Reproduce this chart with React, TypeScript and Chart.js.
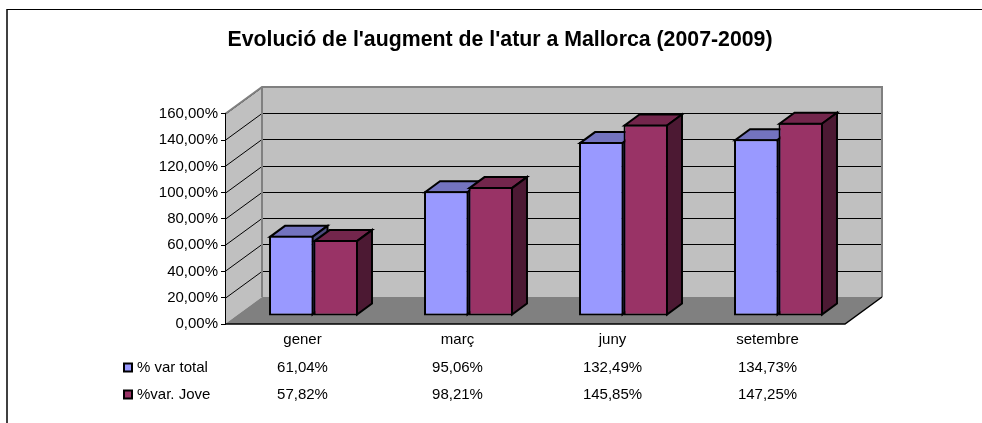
import React, { useEffect, useRef } from 'react';
import { Chart, registerables } from 'chart.js';

Chart.register(...registerables);

const titleText = "Evolució de l'augment de l'atur a Mallorca (2007-2009)";
const categories = ['gener', 'març', 'juny', 'setembre'];
const seriesNames = ['% var total', '%var. Jove'];
const varTotal = [61.04, 95.06, 132.49, 134.73];
const varJove = [57.82, 98.21, 145.85, 147.25];
const yMin = 0;
const yMax = 160;
const yStep = 20;

const frontColors = ['#9999FF', '#993366'];
const topColors = ['#7373BF', '#73264C'];
const sideColors = ['#4C4C80', '#4C1933'];

const FONT = '"Liberation Sans", Arial, Helvetica, sans-serif';

// pseudo-3D geometry (pixels)
const WALL_DX = 37;
const WALL_DY = 27;
const SHIFT_X = 11;
const SHIFT_Y = 8;
const BAR_DX = 15;
const BAR_DY = 11;

const fmt = (v: number) => v.toFixed(2).replace('.', ',') + '%';

function poly(ctx: CanvasRenderingContext2D, pts: number[][]) {
  ctx.beginPath();
  ctx.moveTo(pts[0][0], pts[0][1]);
  for (let i = 1; i < pts.length; i++) ctx.lineTo(pts[i][0], pts[i][1]);
  ctx.closePath();
}

function drawFaces(chart: any, dsIndex: number) {
  const ctx: CanvasRenderingContext2D = chart.ctx;
  const meta = chart.getDatasetMeta(dsIndex);
  ctx.save();
  ctx.lineWidth = 2;
  ctx.strokeStyle = '#000';
  ctx.lineJoin = 'miter';
  meta.data.forEach((el: any) => {
    const p = el.getProps(['x', 'y', 'base', 'width'], true);
    const l = p.x - p.width / 2 + 1;
    const r = p.x + p.width / 2 - 1;
    const t = Math.min(p.y, p.base) + 1;
    const b = Math.max(p.y, p.base) - 1;
    // top face
    poly(ctx, [[l, t], [r, t], [r + BAR_DX, t - BAR_DY], [l + BAR_DX, t - BAR_DY]]);
    ctx.fillStyle = topColors[dsIndex];
    ctx.fill();
    ctx.stroke();
    // side face
    poly(ctx, [[r, t], [r + BAR_DX, t - BAR_DY], [r + BAR_DX, b - BAR_DY], [r, b]]);
    ctx.fillStyle = sideColors[dsIndex];
    ctx.fill();
    ctx.stroke();
  });
  ctx.restore();
}

const scenePlugin = {
  id: 'scene3d',
  beforeDraw(chart: any) {
    const { ctx, chartArea: a, scales } = chart;
    const ys = scales.y;
    const L = a.left, R = a.right, T = a.top, B = a.bottom;
    ctx.save();
    // outer frame
    ctx.fillStyle = '#404040';
    ctx.fillRect(6, 9, 2, chart.height);
    ctx.fillStyle = '#000';
    ctx.fillRect(7, 9, chart.width, 1);
    // back wall
    ctx.fillStyle = '#C0C0C0';
    ctx.fillRect(L + WALL_DX, T - WALL_DY, R - L, B - T);
    // left wall
    poly(ctx, [[L, B], [L, T], [L + WALL_DX, T - WALL_DY], [L + WALL_DX, B - WALL_DY]]);
    ctx.fill();
    // floor
    poly(ctx, [[L, B], [R, B], [R + WALL_DX, B - WALL_DY], [L + WALL_DX, B - WALL_DY]]);
    ctx.fillStyle = '#808080';
    ctx.fill();
    // gridlines
    ctx.strokeStyle = '#000';
    ctx.lineWidth = 1;
    for (let v = yMin + yStep; v <= yMax; v += yStep) {
      const py = Math.round(ys.getPixelForValue(v)) + 0.5;
      ctx.beginPath();
      ctx.moveTo(L, py);
      ctx.lineTo(L + WALL_DX, py - WALL_DY);
      ctx.lineTo(R + WALL_DX, py - WALL_DY);
      ctx.stroke();
    }
    // wall borders
    ctx.strokeStyle = '#808080';
    ctx.lineWidth = 2;
    ctx.beginPath();
    ctx.moveTo(L, T);
    ctx.lineTo(L + WALL_DX, T - WALL_DY);
    ctx.lineTo(R + WALL_DX, T - WALL_DY);
    ctx.lineTo(R + WALL_DX, B - WALL_DY);
    ctx.moveTo(L + WALL_DX, T - WALL_DY);
    ctx.lineTo(L + WALL_DX, B - WALL_DY);
    ctx.stroke();
    // floor edges
    ctx.strokeStyle = '#000';
    ctx.lineWidth = 1.5;
    ctx.beginPath();
    ctx.moveTo(L, B);
    ctx.lineTo(R, B);
    ctx.lineTo(R + WALL_DX, B - WALL_DY);
    ctx.stroke();
    ctx.restore();
  },
  beforeDatasetsDraw(chart: any) {
    chart.ctx.save();
    chart.ctx.translate(SHIFT_X, -SHIFT_Y);
    drawFaces(chart, 0);
  },
  afterDatasetsDraw(chart: any) {
    drawFaces(chart, 1);
    chart.ctx.restore();
  },
  afterDraw(chart: any) {
    const { ctx, scales } = chart;
    const xs = scales.x;
    const rows = [varTotal, varJove];
    const baselines = [371.5, 398.5];
    ctx.save();
    ctx.font = `15px ${FONT}`;
    ctx.fillStyle = '#000';
    ctx.textBaseline = 'alphabetic';
    rows.forEach((row, r) => {
      const by = baselines[r];
      ctx.fillStyle = '#000';
      ctx.fillRect(123, by - 9, 10, 10);
      ctx.fillStyle = frontColors[r];
      ctx.fillRect(125, by - 7, 6, 6);
      ctx.fillStyle = '#000';
      ctx.textAlign = 'left';
      ctx.fillText(seriesNames[r], 137, by);
      ctx.textAlign = 'center';
      row.forEach((v, i) => {
        ctx.fillText(fmt(v), xs.getPixelForValue(i), by);
      });
    });
    ctx.restore();
  },
};

export default function App() {
  const ref = useRef<HTMLCanvasElement>(null);
  useEffect(() => {
    if (!ref.current) return;
    const chart = new Chart(ref.current, {
      type: 'bar',
      data: {
        labels: categories,
        datasets: [
          {
            label: seriesNames[0],
            data: varTotal,
            backgroundColor: frontColors[0],
            borderColor: '#000',
            borderWidth: 2,
            borderSkipped: false,
            inflateAmount: 0,
            categoryPercentage: 0.574,
            barPercentage: 1,
            clip: false,
          },
          {
            label: seriesNames[1],
            data: varJove,
            backgroundColor: frontColors[1],
            borderColor: '#000',
            borderWidth: 2,
            borderSkipped: false,
            inflateAmount: 0,
            categoryPercentage: 0.574,
            barPercentage: 1,
            clip: false,
          },
        ],
      },
      options: {
        responsive: false,
        animation: false,
        events: [],
        layout: { padding: { left: 155, right: 137, top: 0, bottom: 0 } },
        plugins: {
          legend: { display: false },
          tooltip: { enabled: false },
          title: {
            display: true,
            text: titleText,
            color: '#000',
            font: { family: FONT, size: 21.3, weight: 'bold' },
            padding: { top: 27.2, bottom: 61.2 },
          },
        },
        scales: {
          x: {
            ticks: { font: { family: FONT, size: 15 }, color: '#000', padding: 7 },
            grid: { display: false, drawTicks: false },
            border: { display: false },
            afterFit: (s: any) => { s.height = 99; },
          },
          y: {
            min: yMin,
            max: yMax,
            ticks: {
              stepSize: yStep,
              font: { family: FONT, size: 15 },
              color: '#000',
              padding: 3,
              callback: (v: any) => fmt(Number(v)),
            },
            grid: { drawOnChartArea: false, drawTicks: true, tickLength: 4, tickColor: '#000' },
            border: { display: true, color: '#000', width: 1 },
            afterFit: (s: any) => { s.width = 70; },
          },
        },
      },
      plugins: [scenePlugin],
    } as any);
    return () => chart.destroy();
  }, []);
  return (
    <div style={{ position: 'absolute', left: 0, top: 0, width: 982, height: 423, background: '#fff' }}>
      <canvas ref={ref} width={982} height={423} style={{ display: 'block', width: 982, height: 423 }} />
    </div>
  );
}
